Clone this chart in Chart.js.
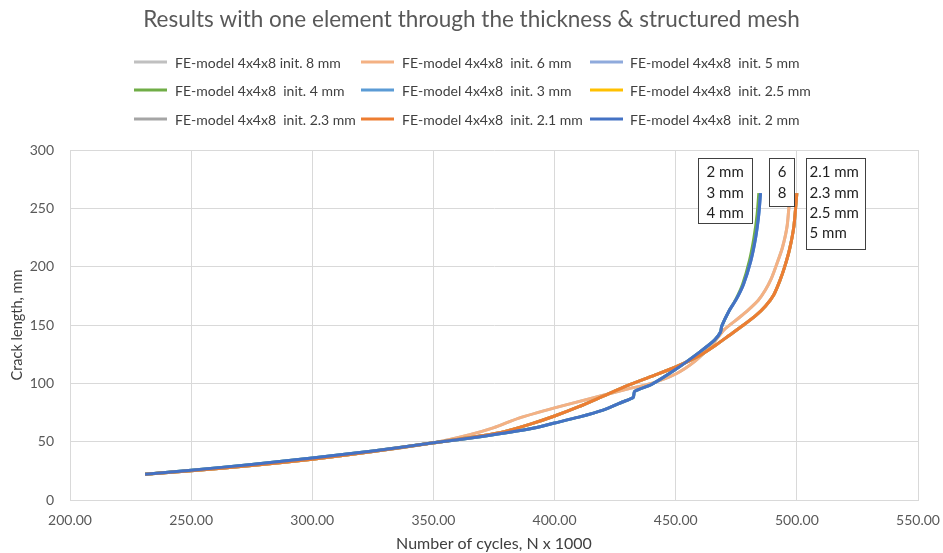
<!DOCTYPE html>
<html>
<head>
<meta charset="utf-8">
<script src="https://cdn.jsdelivr.net/npm/chart.js@4.4.1/dist/chart.umd.min.js"></script>
<style>
  html, body { margin: 0; padding: 0; background: #fff; }
  #wrap { position: relative; width: 943px; height: 553px; }
</style>
</head>
<body>
<div id="wrap"><canvas id="chart" width="943" height="553"></canvas></div>
<script>
// Crack growth curves, N x 1000 against crack length (mm)
const chartTitle = "Results with one element through the thickness & structured mesh";
const seriesNames = [
    "FE-model 4x4x8 init. 8 mm", "FE-model 4x4x8  init. 6 mm", "FE-model 4x4x8  init. 5 mm",
    "FE-model 4x4x8  init. 4 mm", "FE-model 4x4x8  init. 3 mm", "FE-model 4x4x8  init. 2.5 mm",
    "FE-model 4x4x8  init. 2.3 mm", "FE-model 4x4x8  init. 2.1 mm", "FE-model 4x4x8  init. 2 mm"
];
const seriesColors = ["#c0c0c0", "#f4b183", "#8faadc", "#70ad47", "#5b9bd5", "#ffc000", "#a5a5a5", "#ed7d31", "#4472c4"];

// 2, 3 and 4 mm initial cracks
const crackA = [22, 25.5, 30.5, 36, 42, 49, 54.5, 61, 66, 71, 77, 84, 88, 93, 99, 112, 127, 137, 144, 149, 162, 172, 185, 205, 225, 245, 263];
const cyclesA = [231, 250, 275, 300, 325, 350, 370, 390, 400, 410, 420, 428, 432.5, 433, 440, 450, 460, 466, 468.5, 469, 472, 475, 478, 481, 483, 484.3, 485];
const cyclesA4 = [231, 250, 275, 300, 325, 350, 370, 390, 400, 410, 420, 428, 432.5, 433, 440, 450, 460, 466, 468.5, 469, 472, 474.8, 477.6, 480.4, 482.3, 483.6, 484.3];

// 2.1, 2.3, 2.5 and 5 mm initial cracks
const crackB = [22, 25, 29.5, 35, 41.5, 49, 55, 59, 65, 72, 80, 89, 98, 106, 114, 124, 132, 141, 150, 158, 166, 176, 188, 200, 215, 235, 263];
const cyclesB = [231, 250, 275, 300, 325, 350, 370, 380, 390, 400, 410, 420, 430, 440, 450, 460, 466, 472, 478, 483, 487, 490.5, 493, 495, 497, 498.8, 500];

// 6 and 8 mm initial cracks
const crackC = [22, 25, 29.5, 35, 41.5, 49, 56, 62, 70, 79, 87, 95, 100, 108, 119, 133, 146, 156, 163, 171, 180, 190, 201, 216, 235, 263];
const cyclesC = [231, 250, 275, 300, 325, 350, 365, 375, 385, 400, 415, 430, 440, 450, 458, 465, 470, 476, 480, 484, 487, 489.5, 491.5, 494, 496, 497.2];

const xTicks = [200, 250, 300, 350, 400, 450, 500, 550];
const yTicks = [0, 50, 100, 150, 200, 250, 300];

// which (cycles, crack) pair each series uses, in series order
const seriesSource = [
    [cyclesC, crackC], [cyclesC, crackC], [cyclesB, crackB],
    [cyclesA4, crackA], [cyclesA, crackA], [cyclesB, crackB],
    [cyclesB, crackB], [cyclesB, crackB], [cyclesA, crackA]
];

// labelled boxes next to the curve ends, corners given in axis units
const noteBoxes = [
    { lines: ["2 mm", "3 mm", "4 mm"], x0: 459.2, y0: 293.1, x1: 481.5, y1: 237.4, align: "left", pad: 8 },
    { lines: ["6", "8"], x0: 488.4, y0: 293.1, x1: 498.8, y1: 252, align: "center", pad: 0 },
    { lines: ["2.1 mm", "2.3 mm", "2.5 mm", "5 mm"], x0: 503.8, y0: 293.1, x1: 528.1, y1: 215, align: "left", pad: 3 }
];

const FONT = "Lato, 'Open Sans', sans-serif";

const datasets = seriesNames.map((name, i) => ({
    label: name,
    data: seriesSource[i][0].map((n, k) => ({ x: n, y: seriesSource[i][1][k] })),
    borderColor: seriesColors[i],
    backgroundColor: seriesColors[i],
    borderWidth: 3,
    pointRadius: 0,
    showLine: true,
    tension: 0.2,
    fill: false,
    order: seriesNames.length - i
}));

// title plus a three-column legend above the plot
const headerPlugin = {
    id: 'header',
    afterDraw(chart) {
        const ctx = chart.ctx;
        const rows = [62, 90, 119];
        const lineX = [134, 361, 590];
        const textX = [175, 402, 630];
        ctx.save();
        ctx.font = "22.5px " + FONT;
        ctx.fillStyle = "#595959";
        ctx.textAlign = "center";
        ctx.textBaseline = "middle";
        ctx.fillText(chartTitle, chart.width / 2, 20);

        ctx.textAlign = "left";
        ctx.font = "14px " + FONT;
        ctx.fillStyle = "#404040";
        ctx.lineWidth = 3;
        chart.data.datasets.forEach((ds, i) => {
            const r = Math.floor(i / 3), c = i % 3;
            ctx.strokeStyle = ds.borderColor;
            ctx.beginPath();
            ctx.moveTo(lineX[c], rows[r]);
            ctx.lineTo(lineX[c] + 33, rows[r]);
            ctx.stroke();
            ctx.fillText(ds.label, textX[c], rows[r] + 1);
        });
        ctx.restore();
    }
};

const noteBoxPlugin = {
    id: 'noteBoxes',
    afterDatasetsDraw(chart) {
        const ctx = chart.ctx;
        const xs = chart.scales.x, ys = chart.scales.y;
        ctx.save();
        ctx.font = "15px " + FONT;
        ctx.textBaseline = "middle";
        noteBoxes.forEach(b => {
            const l = Math.round(xs.getPixelForValue(b.x0)) + 0.5;
            const r = Math.round(xs.getPixelForValue(b.x1)) + 0.5;
            const t = Math.round(ys.getPixelForValue(b.y0)) + 0.5;
            const btm = Math.round(ys.getPixelForValue(b.y1)) + 0.5;
            ctx.fillStyle = "#ffffff";
            ctx.fillRect(l, t, r - l, btm - t);
            ctx.strokeStyle = "#404040";
            ctx.lineWidth = 1;
            ctx.strokeRect(l, t, r - l, btm - t);
            ctx.fillStyle = "#1f1f1f";
            ctx.textAlign = b.align;
            const tx = b.align === "center" ? (l + r) / 2 : l + b.pad;
            b.lines.forEach((s, k) => ctx.fillText(s, tx, t + 14 + k * 20.3));
        });
        ctx.restore();
    }
};

new Chart(document.getElementById('chart'), {
    type: 'scatter',
    data: { datasets },
    plugins: [headerPlugin, noteBoxPlugin],
    options: {
        responsive: false,
        animation: false,
        layout: { padding: { left: 0, right: 25, top: 150, bottom: 0 } },
        plugins: {
            legend: { display: false },
            tooltip: { enabled: false },
            title: { display: false }
        },
        scales: {
            x: {
                type: 'linear',
                min: xTicks[0],
                max: xTicks[xTicks.length - 1],
                afterBuildTicks: s => { s.ticks = xTicks.map(v => ({ value: v })); },
                afterFit: s => { s.height = 53; s.paddingLeft = 0; s.paddingRight = 0; },
                grid: { color: "#d9d9d9", drawTicks: false },
                border: { color: "#d9d9d9" },
                ticks: {
                    color: "#595959",
                    font: { family: FONT, size: 14 },
                    padding: 12,
                    maxRotation: 0,
                    callback: v => Number(v).toFixed(2)
                },
                title: {
                    display: true,
                    text: "Number of cycles, N x 1000",
                    color: "#404040",
                    font: { family: FONT, size: 16 },
                    padding: { top: 0, bottom: 0 }
                }
            },
            y: {
                min: yTicks[0],
                max: yTicks[yTicks.length - 1],
                afterBuildTicks: s => { s.ticks = yTicks.map(v => ({ value: v })); },
                afterFit: s => { s.width = 70; s.paddingTop = 0; s.paddingBottom = 0; },
                grid: { color: "#d9d9d9", drawTicks: false },
                border: { color: "#d9d9d9" },
                ticks: {
                    color: "#595959",
                    font: { family: FONT, size: 14 },
                    padding: 16
                },
                title: {
                    display: true,
                    text: "Crack length, mm",
                    color: "#404040",
                    font: { family: FONT, size: 14.5 },
                    padding: { top: 9, bottom: 0 }
                }
            }
        }
    }
});
</script>
</body>
</html>
